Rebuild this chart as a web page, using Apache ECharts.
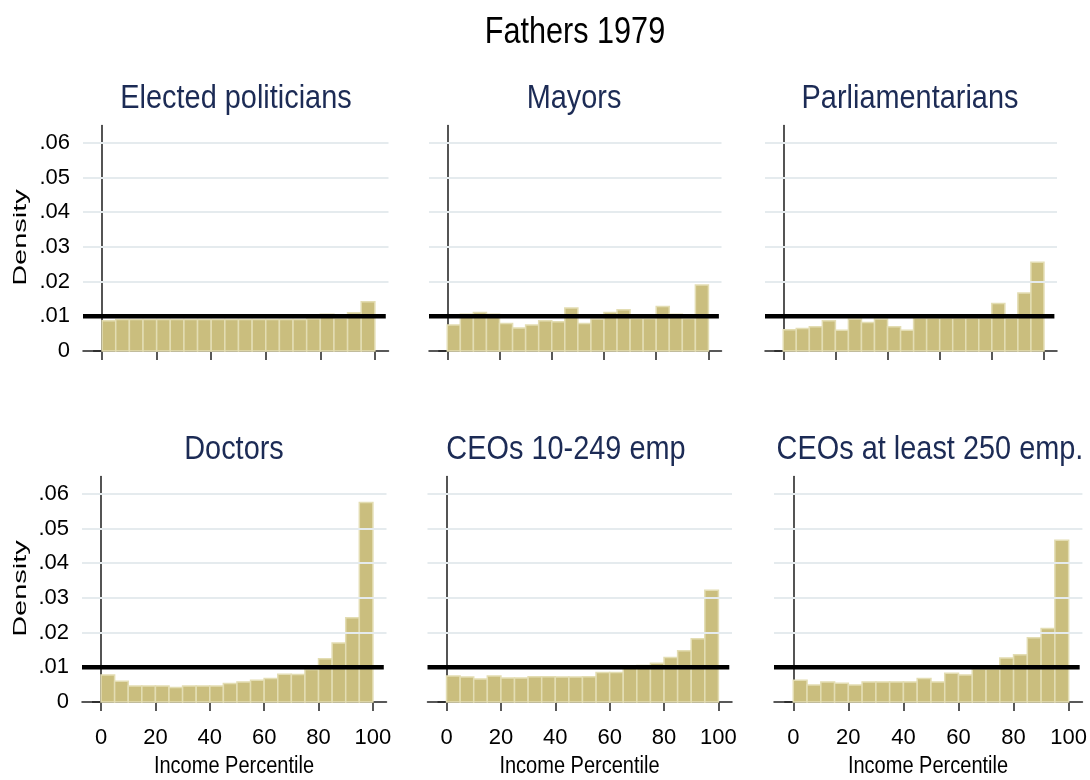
<!DOCTYPE html>
<html>
<head>
<meta charset="utf-8">
<title>Fathers 1979</title>
<script src="https://cdn.jsdelivr.net/npm/echarts@6/dist/echarts.min.js"></script>
<style>
  html, body { margin: 0; padding: 0; background: #fff; }
  #chart { width: 1090px; height: 780px; }
</style>
</head>
<body>
<div id="chart"></div>
<script>
// income percentile bins (5 points wide)
var binStarts = [0, 5, 10, 15, 20, 25, 30, 35, 40, 45, 50, 55, 60, 65, 70, 75, 80, 85, 90, 95];
var binWidth = 5;

// densities
var electedPoliticians = [0.0087, 0.0091, 0.0091, 0.0091, 0.0091, 0.0091, 0.0091, 0.0091, 0.0091, 0.0091,
  0.0091, 0.0091, 0.0091, 0.0091, 0.0091, 0.0093, 0.0106, 0.0095, 0.0110, 0.0142];
var mayors = [0.0075, 0.0106, 0.0111, 0.0106, 0.0079, 0.0066, 0.0075, 0.0087, 0.0084, 0.0124,
  0.0079, 0.0092, 0.0111, 0.0119, 0.0094, 0.0094, 0.0128, 0.0106, 0.0094, 0.0190];
var parliamentarians = [0.0061, 0.0065, 0.0070, 0.0087, 0.0060, 0.0092, 0.0082, 0.0092, 0.0070, 0.0060,
  0.0095, 0.0095, 0.0095, 0.0095, 0.0095, 0.0095, 0.0137, 0.0095, 0.0167, 0.0256];
var doctors = [0.0078, 0.0060, 0.0046, 0.0046, 0.0046, 0.0042, 0.0046, 0.0046, 0.0046, 0.0053,
  0.0058, 0.0063, 0.0068, 0.0080, 0.0079, 0.0094, 0.0125, 0.0170, 0.0243, 0.0575];
var ceosSmall = [0.0075, 0.0072, 0.0066, 0.0075, 0.0069, 0.0069, 0.0073, 0.0073, 0.0072, 0.0072,
  0.0073, 0.0085, 0.0085, 0.0097, 0.0105, 0.0112, 0.0128, 0.0148, 0.0182, 0.0322];
var ceosLarge = [0.0063, 0.0049, 0.0058, 0.0054, 0.0049, 0.0058, 0.0058, 0.0058, 0.0058, 0.0068,
  0.0058, 0.0083, 0.0078, 0.0095, 0.0095, 0.0127, 0.0136, 0.0185, 0.0212, 0.0466];

// axis ticks
var xTicks = [0, 20, 40, 60, 80, 100];
var yTicks = [0, 0.01, 0.02, 0.03, 0.04, 0.05, 0.06];
var yGridLines = [0.02, 0.03, 0.04, 0.05, 0.06];
var uniformDensity = 0.01;
var xMin = -7, xMax = 105, yMax = 0.065;

var FONT = "'Liberation Sans', Arial, sans-serif";
var BAR_FILL = '#cabe7e';
var BAR_EDGE = '#e3ddb3';
var NARROW = 0.85;  // the original text is horizontally condensed

// panel layout (px)
var panels = [
  { name: 'Elected politicians', data: electedPoliticians, left: 83, right: 388.5, top: 125.5, titleX: 236, bottom: false, first: true },
  { name: 'Mayors', data: mayors, left: 429, right: 721.5, top: 125.5, titleX: 574, bottom: false },
  { name: 'Parliamentarians', data: parliamentarians, left: 765, right: 1057, top: 125.5, titleX: 910, bottom: false },
  { name: 'Doctors', data: doctors, left: 82, right: 386.5, top: 476.5, titleX: 234, bottom: true, first: true },
  { name: 'CEOs 10-249 emp', data: ceosSmall, left: 427.5, right: 732, top: 476.5, titleX: 566, bottom: true },
  { name: 'CEOs at least 250 emp.', data: ceosLarge, left: 774, right: 1082.5, top: 476.5, titleX: 930, bottom: true }
];
var plotHeight = 225.5;

function renderBar(params, api) {
  var p0 = api.coord([api.value(0), api.value(2)]);
  var p1 = api.coord([api.value(1), 0]);
  return {
    type: 'rect',
    shape: { x: p0[0], y: p0[1], width: p1[0] - p0[0], height: p1[1] - p0[1] },
    style: { fill: BAR_FILL, stroke: BAR_EDGE, lineWidth: 1.5 }
  };
}

function label(text, x, y, size, color, opts) {
  opts = opts || {};
  return {
    type: 'text', x: x, y: y,
    rotation: opts.rotation || 0,
    scaleX: opts.scaleX || NARROW, scaleY: opts.scaleY || 1,
    silent: true,
    style: {
      text: text, x: 0, y: 0,
      font: 'normal ' + size + 'px ' + FONT,
      fill: color,
      textAlign: 'center', textVerticalAlign: 'middle',
      align: 'center', verticalAlign: 'middle'
    }
  };
}

var graphics = [label('Fathers 1979', 575, 33, 36, '#000')];
var grids = [], xAxes = [], yAxes = [], series = [];

panels.forEach(function (p, i) {
  var w = p.right - p.left;
  graphics.push(label(p.name, p.titleX, p.top - 27, 34, '#1c2b55'));
  if (p.bottom) {
    // x-axis title centred under the 50th percentile
    var mid = p.left + (50 - xMin) / (xMax - xMin) * w - 3;
    graphics.push(label('Income Percentile', mid, p.top + plotHeight + 65, 23, '#000', { scaleX: 0.87 }));
  }
  if (p.first) {
    graphics.push(label('Density', 21, p.top + 112, 21, '#000',
      { rotation: Math.PI / 2, scaleX: 1.38, scaleY: 0.85 }));
  }
  grids.push({ left: p.left, top: p.top, width: w, height: plotHeight, containLabel: false });
  xAxes.push({
    gridIndex: i, type: 'value', min: xMin, max: xMax,
    axisLine: { show: true, onZero: false, lineStyle: { color: '#222', width: 1.5 } },
    axisTick: { show: true, length: 9, customValues: xTicks, lineStyle: { color: '#222', width: 1.5 } },
    axisLabel: { show: p.bottom, customValues: xTicks, margin: 25, fontFamily: FONT, fontSize: 22, color: '#000' },
    splitLine: { show: false }
  });
  yAxes.push({
    gridIndex: i, type: 'value', min: 0, max: yMax,
    axisLine: { show: true, lineStyle: { color: '#2a2a2a', width: 1.6 } },
    axisTick: { show: true, length: 9, customValues: yTicks, lineStyle: { color: '#222', width: 1.5 } },
    axisLabel: {
      show: p.first, customValues: yTicks, margin: 13, fontFamily: FONT, fontSize: 22, color: '#000',
      formatter: function (v) { return v === 0 ? '0' : String(+v.toFixed(2)).replace(/^0/, ''); }
    },
    splitLine: { show: false }
  });
  // light horizontal grid lines
  series.push({
    type: 'line', xAxisIndex: i, yAxisIndex: i, data: [], z: 1, silent: true,
    markLine: {
      silent: true, symbol: 'none', animation: false, label: { show: false },
      lineStyle: { color: '#e5ebee', width: 2, type: 'solid' },
      data: yGridLines.map(function (v) { return { yAxis: v }; })
    }
  });
  series.push({
    type: 'custom', xAxisIndex: i, yAxisIndex: i, z: 2,
    renderItem: renderBar,
    encode: { x: [0, 1], y: 2 },
    data: p.data.map(function (v, k) { return [binStarts[k], binStarts[k] + binWidth, v]; })
  });
  // uniform density reference line
  series.push({
    type: 'line', xAxisIndex: i, yAxisIndex: i, z: 3, symbol: 'none', silent: true,
    lineStyle: { color: '#000', width: 4.5 },
    data: [[xMin, uniformDensity], [xMax - 1, uniformDensity]]
  });
});

var chart = echarts.init(document.getElementById('chart'));
chart.setOption({
  animation: false,
  backgroundColor: '#fff',
  graphic: graphics,
  grid: grids,
  xAxis: xAxes,
  yAxis: yAxes,
  series: series
});
</script>
</body>
</html>
